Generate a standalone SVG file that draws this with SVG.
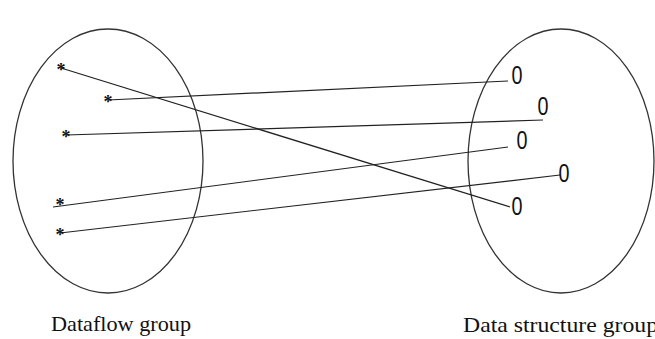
<svg xmlns="http://www.w3.org/2000/svg" width="655" height="339" viewBox="0 0 655 339">
<style>
.set{fill:none;stroke:#333;stroke-width:1.3}
.ln{stroke:#222;stroke-width:1.2;fill:none}
.star{font-family:"Liberation Serif",serif;font-size:18px;font-weight:bold;fill:#111;text-anchor:middle}
.zero{font-family:"Liberation Sans",sans-serif;font-size:25px;fill:#111;text-anchor:middle}
.lbl{font-family:"Liberation Serif",serif;font-size:22px;fill:#111}
</style>
<rect width="655" height="339" fill="#fff"/>
<g id="dataflow-group">
<ellipse class="set" cx="108" cy="161" rx="95" ry="132"/>
<text class="lbl" x="51" y="331" textLength="140" lengthAdjust="spacingAndGlyphs">Dataflow group</text>
</g>
<g id="data-structure-group">
<ellipse class="set" cx="561" cy="161" rx="93" ry="132"/>
<text class="lbl" x="463" y="332" textLength="195" lengthAdjust="spacingAndGlyphs">Data structure group</text>
</g>
<g id="connectors">
<line class="ln" x1="61" y1="68" x2="510" y2="207"/>
<line class="ln" x1="108" y1="100" x2="508" y2="81"/>
<line class="ln" x1="66" y1="135" x2="543" y2="120"/>
<line class="ln" x1="53" y1="207" x2="508" y2="147"/>
<line class="ln" x1="60" y1="233" x2="560" y2="175"/>
</g>
<g id="star-1"><text class="star" x="61" y="76">*</text></g>
<g id="star-2"><text class="star" x="108" y="108">*</text></g>
<g id="star-3"><text class="star" x="66" y="143">*</text></g>
<g id="star-4"><text class="star" x="60" y="211">*</text></g>
<g id="star-5"><text class="star" x="60" y="241">*</text></g>
<g id="zero-1"><text class="zero" x="517" y="84" textLength="11" lengthAdjust="spacingAndGlyphs">0</text></g>
<g id="zero-2"><text class="zero" x="543" y="115" textLength="11" lengthAdjust="spacingAndGlyphs">0</text></g>
<g id="zero-3"><text class="zero" x="522" y="149" textLength="11" lengthAdjust="spacingAndGlyphs">0</text></g>
<g id="zero-4"><text class="zero" x="564" y="182" textLength="11" lengthAdjust="spacingAndGlyphs">0</text></g>
<g id="zero-5"><text class="zero" x="517" y="215" textLength="11" lengthAdjust="spacingAndGlyphs">0</text></g>
</svg>
